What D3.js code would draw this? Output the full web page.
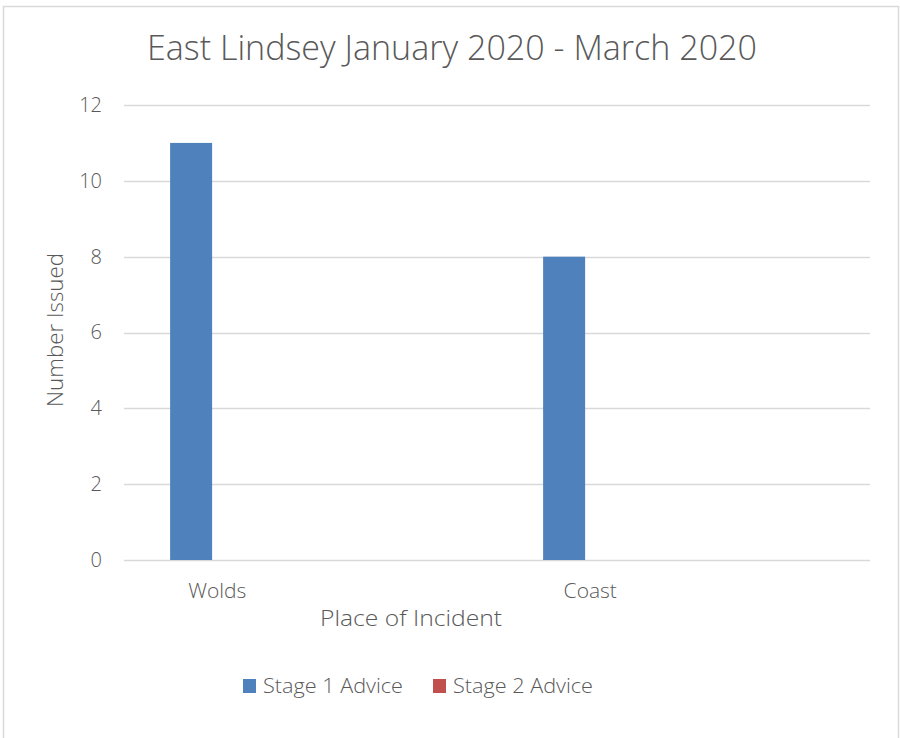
<!DOCTYPE html>
<html>
<head>
<meta charset="utf-8">
<script src="https://cdn.jsdelivr.net/npm/d3@7"></script>
<style>
  html, body { margin: 0; padding: 0; background: #fff; }
  svg { display: block; }
  text { font-family: "Open Sans", "Noto Sans", sans-serif; fill: #595959; font-weight: 300; }
</style>
</head>
<body>
<script>
// Chart data
const categories = ["Wolds", "", "Coast", ""];
const seriesNames = ["Stage 1 Advice", "Stage 2 Advice"];
const stage1Values = [11, null, 8, null];
const stage2Values = [0, null, 0, null];
const yTicks = [0, 2, 4, 6, 8, 10, 12];
const seriesColors = ["#4f81bd", "#c0504d"];

const W = 900, H = 738;
const plot = { left: 124, right: 870, top: 105, bottom: 560 };

const svg = d3.select("body").append("svg")
  .attr("width", W).attr("height", H);

svg.append("rect").attr("width", W).attr("height", H).attr("fill", "#fff");

// Outer chart frame
svg.append("rect")
  .attr("x", 3.5).attr("y", 6.5)
  .attr("width", 895).attr("height", 745)
  .attr("fill", "none").attr("stroke", "#d9d9d9").attr("stroke-width", 1.5);

// Scales
const x0 = d3.scaleBand()
  .domain(d3.range(categories.length))
  .range([plot.left, plot.right])
  .paddingInner(0).paddingOuter(0);

const x1 = d3.scaleBand()
  .domain(seriesNames)
  .range([0, x0.bandwidth()])
  .paddingInner(0)
  .paddingOuter(1.22)
  .align(0.45);

const y = d3.scaleLinear().domain([0, 12]).range([plot.bottom, plot.top]);

// Gridlines
svg.append("g")
  .selectAll("line")
  .data(yTicks)
  .join("line")
  .attr("x1", plot.left).attr("x2", plot.right)
  .attr("y1", d => Math.round(y(d)) + 0.5)
  .attr("y2", d => Math.round(y(d)) + 0.5)
  .attr("stroke", "#d9d9d9").attr("stroke-width", 1.5);

// Y axis labels
const yAxis = d3.axisLeft(y).tickValues(yTicks).tickSize(0).tickPadding(0);
const yG = svg.append("g").attr("transform", `translate(${plot.left - 22},0)`).call(yAxis);
yG.select(".domain").remove();
yG.selectAll("text")
  .attr("font-size", 20)
  .attr("fill", "#595959")
  .style("font-family", "'Open Sans', sans-serif")
  .style("font-weight", 300);

// Bars
const rows = categories.map((c, i) => ({ i, values: [stage1Values[i], stage2Values[i]] }));
const groups = svg.append("g").selectAll("g")
  .data(rows)
  .join("g")
  .attr("transform", d => `translate(${x0(d.i)},0)`);

groups.selectAll("rect")
  .data(d => d.values.map((v, k) => ({ name: seriesNames[k], value: v, k })).filter(e => e.value !== null))
  .join("rect")
  .attr("x", d => x1(d.name))
  .attr("width", x1.bandwidth())
  .attr("y", d => y(d.value))
  .attr("height", d => y(0) - y(d.value))
  .attr("fill", d => seriesColors[d.k]);

// Category axis labels
const xAxis = d3.axisBottom(x0).tickSize(0).tickPadding(0).tickFormat(i => categories[i]);
const xG = svg.append("g").attr("transform", `translate(0,${plot.bottom + 23})`).call(xAxis);
xG.select(".domain").remove();
xG.selectAll("text")
  .attr("font-size", 21)
  .attr("fill", "#595959")
  .attr("dy", "0.71em")
  .style("font-family", "'Open Sans', sans-serif")
  .style("font-weight", 300);

// Title
svg.append("text")
  .attr("x", 452).attr("y", 60)
  .attr("text-anchor", "middle")
  .attr("font-size", 34)
  .attr("textLength", 610).attr("lengthAdjust", "spacingAndGlyphs")
  .text("East Lindsey January 2020 - March 2020");

// Axis titles
svg.append("text")
  .attr("x", 411).attr("y", 626)
  .attr("text-anchor", "middle")
  .attr("font-size", 22)
  .attr("textLength", 182).attr("lengthAdjust", "spacingAndGlyphs")
  .text("Place of Incident");

svg.append("text")
  .attr("transform", "translate(63,330) rotate(-90)")
  .attr("text-anchor", "middle")
  .attr("font-size", 22)
  .attr("textLength", 154).attr("lengthAdjust", "spacingAndGlyphs")
  .text("Number Issued");

// Legend
const legend = svg.append("g");
const legendX = [243, 433];
seriesNames.forEach((name, k) => {
  legend.append("rect")
    .attr("x", legendX[k]).attr("y", 679)
    .attr("width", 13).attr("height", 14)
    .attr("fill", seriesColors[k]);
  legend.append("text")
    .attr("x", legendX[k] + 20).attr("y", 693)
    .attr("font-size", 21)
    .attr("textLength", 140).attr("lengthAdjust", "spacingAndGlyphs")
    .text(name);
});
</script>
</body>
</html>
